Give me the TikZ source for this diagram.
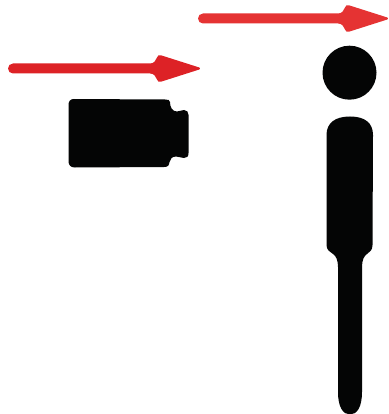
\documentclass[tikz,border=0pt]{standalone}
\definecolor{arrowa}{HTML}{DD2226}
\definecolor{arrowb}{HTML}{E53333}
\definecolor{ink}{HTML}{040505}
\tikzset{
  redarrow/.pic={
    \fill[pic actions] (5,-5) -- (\arrowlen-50,-5)
      .. controls (\arrowlen-46,-5) and (\arrowlen-44,-8) .. (\arrowlen-43,-11)
      .. controls (\arrowlen-42.4,-13) and (\arrowlen-41,-13.8) .. (\arrowlen-39,-13.2)
      -- (\arrowlen-0.7,-1)
      .. controls (\arrowlen+0.2,-0.5) and (\arrowlen+0.2,0.5) .. (\arrowlen-0.7,1)
      -- (\arrowlen-39,13.2)
      .. controls (\arrowlen-41,13.8) and (\arrowlen-42.4,13) .. (\arrowlen-43,11)
      .. controls (\arrowlen-44,8) and (\arrowlen-46,5) .. (\arrowlen-50,5)
      -- (5,5) arc[start angle=90,end angle=270,radius=5] -- cycle;
  },
  inkfill/.style={fill=ink}
}
\begin{document}
\begin{tikzpicture}[x=1pt,y=-1pt]
\useasboundingbox (0,0) rectangle (388,414);
\fill[white] (0,0) rectangle (388,414);
% arrows
\def\arrowlen{192}
\pic[fill=arrowa] at (8,68.5) {redarrow};
\def\arrowlen{190}
\pic[fill=arrowb] at (198,18.5) {redarrow};
% camera
\fill[inkfill] (74,99) -- (165,99.5)
  .. controls (168,99.5) and (170,100) .. (170,102)
  .. controls (170,107) and (172,111.5) .. (177,111.5)
  .. controls (180,111.5) and (181,110) .. (184,110)
  .. controls (187,110) and (188.5,112) .. (188.5,115)
  -- (188.5,153)
  .. controls (188.5,156.5) and (187,158) .. (184,158)
  .. controls (181,158) and (179,156.5) .. (176,156.5)
  .. controls (172,156.5) and (170,159) .. (169.5,162)
  .. controls (169,165.5) and (168,167) .. (164,167)
  -- (75,167.5)
  .. controls (70.5,167.5) and (68.5,165) .. (68.5,161)
  -- (68.5,105)
  .. controls (68.5,101) and (70.5,99) .. (74,99) -- cycle;
% head
\fill[inkfill] (349.5,72.7) circle[radius=27];
% body
\fill[inkfill] (326.5,135)
  .. controls (326.5,123) and (335,116.5) .. (350,116.5)
  .. controls (365,116.5) and (373,123) .. (373,135)
  -- (372.5,245)
  .. controls (372.5,250) and (370,252) .. (367,254)
  .. controls (364,256) and (362,260) .. (362,267)
  -- (362,392)
  .. controls (362,407) and (357,414.5) .. (350,414.5)
  .. controls (343,414.5) and (338,407) .. (338,392)
  -- (338,267)
  .. controls (338,260) and (336,256) .. (333,254)
  .. controls (330,252) and (326.5,250) .. (326.5,245)
  -- cycle;
\end{tikzpicture}
\end{document}
